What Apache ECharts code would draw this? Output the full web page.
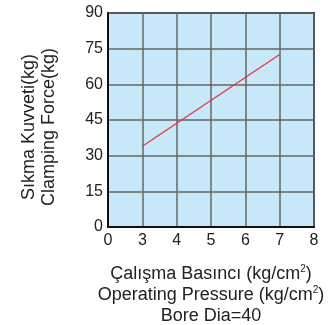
<!DOCTYPE html>
<html>
<head>
<meta charset="utf-8">
<script src="https://cdn.jsdelivr.net/npm/echarts@6/dist/echarts.min.js"></script>
<style>
  html, body { margin: 0; padding: 0; background: #fff; }
  #chart { width: 328px; height: 325px; }
</style>
</head>
<body>
<div id="chart"></div>
<script>
// x positions on the axis (0 is drawn in place of 2: broken scale)
var xTicks = [2, 3, 4, 5, 6, 7, 8];
var xLabels = ['0', '3', '4', '5', '6', '7', '8'];
var pressure = [3, 7];
var force = [34, 72.5];

var chart = echarts.init(document.getElementById('chart'));
var font = '"Liberation Sans", Arial, sans-serif';

var option = {
  backgroundColor: '#fff',
  animation: false,
  grid: {
    show: true,
    left: 108, right: 14, top: 13, bottom: 98,
    outerBoundsMode: 'none',
    backgroundColor: '#c7e8f8',
    borderColor: '#333',
    borderWidth: 2
  },
  xAxis: {
    type: 'value',
    min: 2, max: 8, interval: 1,
    name: 'Çalışma Basıncı (kg/cm{s|2})\nOperating Pressure (kg/cm{s|2})\nBore Dia=40',
    nameLocation: 'middle',
    nameGap: 37,
    nameTextStyle: {
      color: '#222', fontSize: 18, fontFamily: font, lineHeight: 21, align: 'center',
      rich: { s: { fontSize: 10, verticalAlign: 'top', padding: [0, 0, 10, 0], fontFamily: font, color: '#222' } }
    },
    axisLine: { show: true, lineStyle: { color: '#111', width: 2 } },
    axisTick: { show: false },
    splitLine: { show: true, lineStyle: { color: '#666', width: 1.5 } },
    axisLabel: {
      color: '#222', fontSize: 16, fontFamily: font, margin: 6,
      formatter: function (v) { return xLabels[xTicks.indexOf(v)]; }
    }
  },
  yAxis: {
    type: 'value',
    min: 0, max: 90, interval: 15,
    name: 'Sıkma Kuvveti(kg)\nClamping Force(kg)',
    nameLocation: 'middle',
    nameGap: 49,
    nameTextStyle: { color: '#222', fontSize: 18, fontFamily: font, lineHeight: 20, padding: [0, 14, 0, 0] },
    axisLine: { show: true, lineStyle: { color: '#111', width: 2 } },
    axisTick: { show: false },
    splitLine: { show: true, lineStyle: { color: '#666', width: 1.5 } },
    axisLabel: { color: '#222', fontSize: 16, fontFamily: font, margin: 5 }
  },
  series: [{
    type: 'line',
    data: pressure.map(function (p, i) { return [p, force[i]]; }),
    showSymbol: false,
    lineStyle: { color: '#e8303a', width: 1.2 }
  }]
};

chart.setOption(option);
</script>
</body>
</html>
